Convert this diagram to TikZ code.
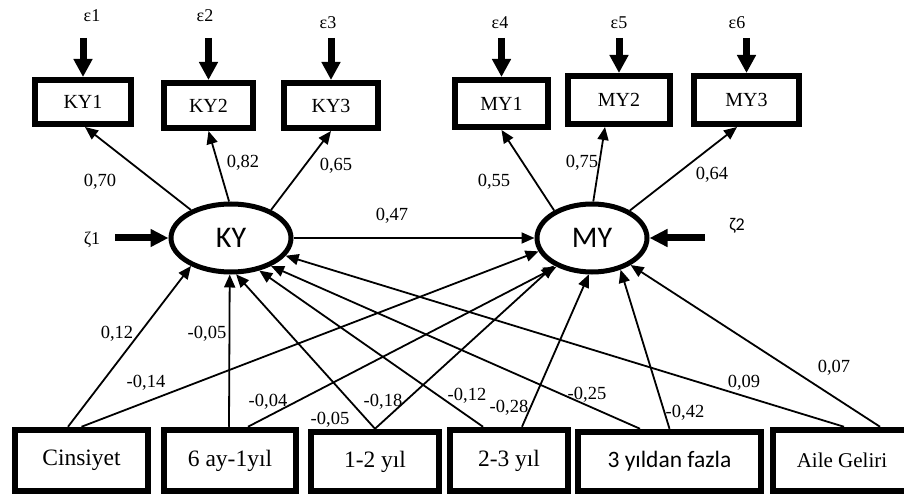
\documentclass[tikz,border=0pt]{standalone}
\usepackage{fontspec}
\setmainfont{Liberation Serif}
\newfontfamily\carlito{Carlito}
\usetikzlibrary{arrows.meta,shapes.geometric}
\begin{document}
\begin{tikzpicture}[x=1pt,y=-1pt,
  obsbox/.style={draw, rectangle, line width=6pt, inner sep=0pt, fill=white, font=\fontsize{20}{22}\selectfont},
  inbox/.style={draw, rectangle, line width=6.5pt, inner sep=0pt, fill=white, font=\fontsize{23.5}{26}\selectfont},
  latent/.style={draw, ellipse, line width=5pt, inner sep=0pt, minimum height=68pt, fill=white, font=\carlito\fontsize{30}{32}\selectfont},
  patharrow/.style={line width=1.8pt, -{Triangle[length=13pt,width=11pt]}},
  errarrow/.style={line width=7pt, -{Triangle[length=18pt,width=18pt]}},
  zetaarrow/.style={line width=7pt, -{Triangle[length=18pt,width=17pt]}},
  coef/.style={inner sep=0pt, font=\fontsize{18.5}{20}\selectfont},
  errlabel/.style={inner sep=0pt, font=\fontsize{18}{20}\selectfont}]
\useasboundingbox (0,0) rectangle (904,494);
\clip (0,0) rectangle (904,494);

% indicator boxes
\node[obsbox, minimum width=96pt, minimum height=44pt] (KY1) at (83,102) {KY1};
\node[obsbox, minimum width=89pt, minimum height=45pt] (KY2) at (208.5,105.5) {KY2};
\node[obsbox, minimum width=94pt, minimum height=45pt] (KY3) at (331,105.5) {KY3};
\node[obsbox, minimum width=93pt, minimum height=47pt] (MY1) at (501.5,103.5) {MY1};
\node[obsbox, minimum width=102pt, minimum height=48pt] (MY2) at (619,100) {MY2};
\node[obsbox, minimum width=105pt, minimum height=48pt] (MY3) at (746.5,100) {MY3};

% latent variables
\node[latent, minimum width=120pt] (KY) at (231,238) {KY};
\node[latent, minimum width=110pt] (MY) at (592,238) {MY};

% exogenous boxes
\node[inbox, minimum width=133pt, minimum height=61pt] (cins) at (81.5,460.5) {Cinsiyet};
\node[inbox, minimum width=132pt, minimum height=61pt] (six) at (230,460.5) {6 ay-1yıl};
\node[inbox, minimum width=128pt, minimum height=59pt] (one2) at (375,461.5) {1-2 yıl};
\node[inbox, minimum width=118pt, minimum height=61pt] (two3) at (509,460.5) {2-3 yıl};
\node[inbox, minimum width=183pt, minimum height=59pt, font=\carlito\fontsize{23.5}{26}\selectfont] (three) at (669.5,461.5) {3 yıldan fazla};
\node[inbox, minimum width=138pt, minimum height=61pt, font=\fontsize{21}{24}\selectfont] (aile) at (842,460.5) {Aile Geliri};

% error labels
\node[errlabel] (e1) at (92,16) {ε1};
\node[errlabel] (e2) at (205,16) {ε2};
\node[errlabel] (e3) at (328,23) {ε3};
\node[errlabel] (e4) at (500,23) {ε4};
\node[errlabel] (e5) at (619,23) {ε5};
\node[errlabel] (e6) at (737,23) {ε6};
\node[errlabel] (z1) at (92,240) {ζ1};
\node[errlabel, font=\carlito\fontsize{18}{20}\selectfont] (z2) at (737,226) {ζ2};

% error arrow starts
\coordinate (a1) at (KY1.north |- 0,38);
\coordinate (a2) at (KY2.north |- 0,38);
\coordinate (a3) at (KY3.north |- 0,38);
\coordinate (a4) at (MY1.north |- 0,38);
\coordinate (a5) at (MY2.north |- 0,38);
\coordinate (a6) at (MY3.north |- 0,38);
\coordinate (za) at (115,238);
\coordinate (zb) at (705,238);

\draw[errarrow] (a1) -- (KY1.north);
\draw[errarrow] (a2) -- (KY2.north);
\draw[errarrow] (a3) -- (KY3.north);
\draw[errarrow] (a4) -- (MY1.north);
\draw[errarrow] (a5) -- (MY2.north);
\draw[errarrow] (a6) -- (MY3.north);
\draw[zetaarrow] (za) -- (KY.west);
\draw[zetaarrow] (zb) -- (MY.east);

% loadings
\draw[patharrow] (KY.145) -- ([xshift=2pt]KY1.south);
\draw[patharrow] (KY.93) -- (KY2.south);
\draw[patharrow] (KY.35) -- (KY3.south);
\draw[patharrow] (MY.144) -- (MY1.south);
\draw[patharrow] (MY.88) -- ([xshift=-14pt]MY2.south);
\draw[patharrow] (MY.36) -- ([xshift=-9.5pt]MY3.south);

% structural
\draw[patharrow] (KY.east) -- (MY.west);
\draw[patharrow] ([xshift=-13.5pt]cins.north) -- (KY.215);
\draw[patharrow] (cins.north) -- (MY.194);
\draw[patharrow] ([xshift=-1pt]six.north) -- (KY.268);
\draw[patharrow] ([xshift=18pt]six.north) -- (MY.219);
\draw[patharrow] (one2.north) -- (KY.278);
\draw[patharrow] (one2.north) -- (MY.216);
\draw[patharrow] ([xshift=-26pt]two3.north) -- (KY.311);
\draw[patharrow] ([xshift=13pt]two3.north) -- (MY.265);
\draw[patharrow] ([xshift=-29.5pt]three.north) -- (KY.325);
\draw[patharrow] (three.north) -- (MY.312);
\draw[patharrow] ([xshift=2pt]aile.north) -- (KY.342);
\draw[patharrow] ([xshift=38pt]aile.north) -- (MY.325);

% coefficients
\node[coef] (c1) at (100,182) {0,70};
\node[coef] (c2) at (243,163) {0,82};
\node[coef] (c3) at (336,166) {0,65};
\node[coef] (c4) at (494,182) {0,55};
\node[coef] (c5) at (582,163) {0,75};
\node[coef] (c6) at (712,175) {0,64};
\node[coef] (c7) at (392,216) {0,47};
\node[coef] (c8) at (117,334) {0,12};
\node[coef] (c9) at (207,334) {-0,05};
\node[coef] (c10) at (146,383) {-0,14};
\node[coef] (c11) at (268,402) {-0,04};
\node[coef] (c12) at (330,420) {-0,05};
\node[coef] (c13) at (383,402) {-0,18};
\node[coef] (c14) at (467,396) {-0,12};
\node[coef] (c15) at (509,408) {-0,28};
\node[coef] (c16) at (587,395) {-0,25};
\node[coef] (c17) at (685,413) {-0,42};
\node[coef] (c18) at (744,383) {0,09};
\node[coef] (c19) at (834,368) {0,07};
\end{tikzpicture}
\end{document}
